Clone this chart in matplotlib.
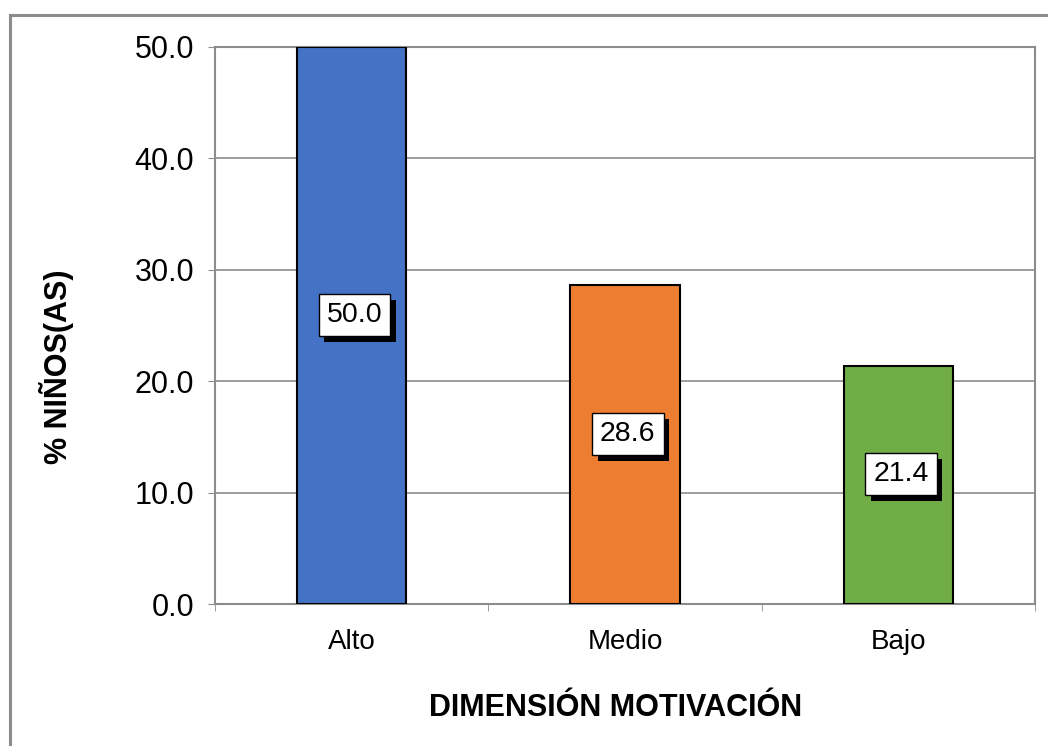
import matplotlib
matplotlib.use("Agg")
import matplotlib.pyplot as plt
import matplotlib.patheffects as pe
from matplotlib.lines import Line2D

plt.rcParams['font.family'] = ['Liberation Sans', 'DejaVu Sans']

# data
categories = ['Alto', 'Medio', 'Bajo']
percentages = [50.0, 28.6, 21.4]
bar_colors = ['#4472C4', '#ED7D31', '#70AD47']
yticks = [0, 10, 20, 30, 40, 50]

grey = '#8c8c8c'

fig = plt.figure(figsize=(10.48, 7.46), dpi=100)
ax = fig.add_axes([215 / 1048, 1 - 604 / 746, 820 / 1048, 557 / 746])

x = list(range(len(categories)))
ax.bar(x, percentages, width=0.4, color=bar_colors, edgecolor='black',
       linewidth=1.5, zorder=3)

# value labels, white box with a dropped black shadow
for xi, v in zip(x, percentages):
    t = ax.annotate(f'{v:.1f}', (xi, v / 2), xytext=(2, 7.5), textcoords='offset points',
                    ha='center', va='center', fontsize=20.5, color='black', zorder=5,
                    bbox=dict(boxstyle='square,pad=0.28', fc='white', ec='black', lw=1))
    t.get_bbox_patch().set_path_effects([
        pe.SimplePatchShadow(offset=(4, -4), shadow_rgbFace='black', alpha=1),
        pe.Normal()])

ax.set_xlim(-0.5, len(categories) - 0.5)
ax.set_ylim(0, 50)
ax.set_yticks(yticks)
ax.set_yticklabels([f'{t:.1f}' for t in yticks], fontsize=22)
ax.tick_params(axis='y', direction='out', length=5, color=grey, pad=10)

ax.set_xticks(x)
ax.set_xticklabels(categories, fontsize=20)
ax.tick_params(axis='x', which='major', length=0, pad=18)
ax.set_xticks([i + 0.5 for i in range(-1, len(categories))], minor=True)
ax.tick_params(axis='x', which='minor', direction='out', length=5, color=grey)

ax.grid(axis='y', color=grey, linewidth=1.2, zorder=0)
for s in ax.spines.values():
    s.set_color(grey)
    s.set_linewidth(1.5)

fig.text(616 / 1048, 1 - 708 / 746, 'DIMENSIÓN MOTIVACIÓN', ha='center', va='center',
         fontsize=22, fontweight='bold')
fig.text(57 / 1048, 1 - 367 / 746, '% NIÑOS(AS)', ha='center', va='center',
         rotation=90, fontsize=22, fontweight='bold')

# outer chart frame (top and left edges visible)
fig.add_artist(Line2D([10 / 1048, 1], [1 - 15 / 746, 1 - 15 / 746], color=grey, lw=2.2))
fig.add_artist(Line2D([10 / 1048, 10 / 1048], [0, 1 - 15 / 746], color=grey, lw=2.2))

fig.savefig('out.png', dpi=100)
